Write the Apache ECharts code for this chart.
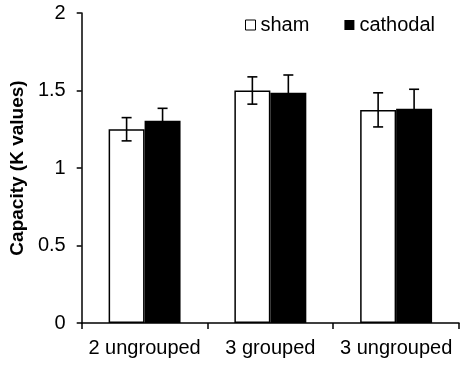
<!DOCTYPE html>
<html>
<head>
<meta charset="utf-8">
<script src="https://cdn.jsdelivr.net/npm/echarts@6/dist/echarts.min.js"></script>
<style>
  html, body { margin: 0; padding: 0; background: #fff; }
  #chart { width: 463px; height: 371px; }
</style>
</head>
<body>
<div id="chart"></div>
<script>
const categories = ['2 ungrouped', '3 grouped', '3 ungrouped'];
const shamValues = [1.25, 1.50, 1.375];
const shamErr = [0.075, 0.088, 0.11];
const cathodalValues = [1.305, 1.485, 1.383];
const cathodalErr = [0.08, 0.115, 0.125];
const yTicks = [0, 0.5, 1, 1.5, 2];

const BAR_FRAC = 0.286;

// error bars drawn with a custom series, shifted to sit on the matching bar
function errorSeries(name, values, errs, side) {
  return {
    name: name + ' err',
    type: 'custom',
    silent: true,
    z: 10,
    renderItem: function (params, api) {
      const i = api.value(0);
      const band = api.size([1, 0])[0];
      const shift = side * band * BAR_FRAC / 2;
      const hi = api.coord([i, api.value(1) + api.value(2)]);
      const lo = api.coord([i, api.value(1) - api.value(2)]);
      const x = hi[0] + shift;
      const cap = 5;
      const style = { stroke: '#000', lineWidth: 1.6 };
      return {
        type: 'group',
        children: [
          { type: 'line', shape: { x1: x, y1: hi[1], x2: x, y2: lo[1] }, style: style },
          { type: 'line', shape: { x1: x - cap, y1: hi[1], x2: x + cap, y2: hi[1] }, style: style },
          { type: 'line', shape: { x1: x - cap, y1: lo[1], x2: x + cap, y2: lo[1] }, style: style }
        ]
      };
    },
    data: values.map((v, i) => [i, v, errs[i]])
  };
}

const chart = echarts.init(document.getElementById('chart'));
const font = 'Liberation Sans, Arial, sans-serif';

chart.setOption({
  animation: false,
  textStyle: { fontFamily: font, color: '#000' },
  grid: { left: 80, right: 4, top: 13, bottom: 48 },
  legend: {
    left: 245,
    top: 15,
    padding: 0,
    itemWidth: 10,
    itemHeight: 10,
    itemGap: 35,
    textStyle: { fontSize: 20, color: '#000', fontFamily: font },
    data: [
      { name: 'sham', icon: 'rect', itemStyle: { color: '#fff', borderColor: '#000', borderWidth: 1 } },
      { name: 'cathodal', icon: 'rect', itemStyle: { color: '#000', borderWidth: 0 } }
    ]
  },
  xAxis: {
    type: 'category',
    data: categories,
    axisLine: { lineStyle: { color: '#000', width: 1.5 } },
    axisTick: { show: true, length: 6, lineStyle: { color: '#000', width: 1.5 } },
    axisLabel: {
      fontSize: 20, color: '#000', margin: 15, fontFamily: font,
      interval: 0, hideOverlap: false
    }
  },
  yAxis: {
    type: 'value',
    min: 0,
    max: 2,
    interval: 0.5,
    name: 'Capacity (K values)',
    nameLocation: 'middle',
    nameGap: 46,
    nameTextStyle: { fontSize: 19, fontWeight: 'bold', color: '#000', fontFamily: font },
    axisLine: { show: true, lineStyle: { color: '#000', width: 1.5 } },
    axisTick: { show: true, length: 5, lineStyle: { color: '#000', width: 1.5 } },
    axisLabel: {
      fontSize: 20, color: '#000', margin: 16, fontFamily: font,
      formatter: v => yTicks.includes(v) ? String(v) : ''
    },
    splitLine: { show: false }
  },
  series: [
    {
      name: 'sham',
      type: 'bar',
      barWidth: (BAR_FRAC * 100) + '%',
      barGap: '0%',
      itemStyle: { color: '#fff', borderColor: '#000', borderWidth: 1.5 },
      data: shamValues
    },
    {
      name: 'cathodal',
      type: 'bar',
      barWidth: (BAR_FRAC * 100) + '%',
      barGap: '0%',
      itemStyle: { color: '#000' },
      data: cathodalValues
    },
    errorSeries('sham', shamValues, shamErr, -1),
    errorSeries('cathodal', cathodalValues, cathodalErr, 1)
  ]
});
</script>
</body>
</html>
